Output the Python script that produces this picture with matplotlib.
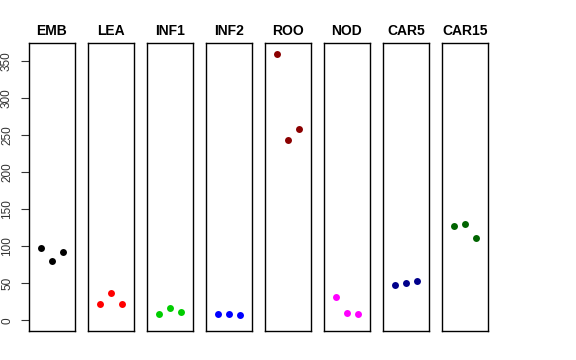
import matplotlib
matplotlib.use("Agg")
import matplotlib.pyplot as plt

tissues = ["EMB", "LEA", "INF1", "INF2", "ROO", "NOD", "CAR5", "CAR15"]
values = {
    "EMB": [97, 80, 92],
    "LEA": [22, 37, 22],
    "INF1": [9, 16, 11],
    "INF2": [9, 8, 7],
    "ROO": [360, 244, 258],
    "NOD": [31, 10, 8],
    "CAR5": [48, 50, 53],
    "CAR15": [127, 130, 111],
}
colors = ["black", "red", "#00CD00", "blue", "#8B0000", "magenta", "#00008B", "#006400"]
yticks = [0, 50, 100, 150, 200, 250, 300, 350]

plt.rcParams['font.family'] = ['Liberation Sans', 'DejaVu Sans']
W, H = 576, 360
fig = plt.figure(figsize=(W / 100, H / 100), dpi=100)

ymax = max(max(v) for v in values.values())
ymin = 0
pad = 0.04 * (ymax - ymin)
for i, t in enumerate(tissues):
    left = 29 + 59 * i
    ax = fig.add_axes([left / W, (H - 331) / H, 46 / W, 288 / H])
    ax.plot([1, 2, 3], values[t], "o", color=colors[i], markersize=5, markeredgewidth=0)
    ax.set_xlim(-0.16, 4.16)
    ax.set_ylim(ymin - pad, ymax + pad)
    ax.set_xticks([])
    for s in ax.spines.values():
        s.set_linewidth(1)
        s.set_color("black")
    ax.set_title(t, fontsize=10, fontweight="bold", pad=6)
    if i == 0:
        ax.set_yticks(yticks)
        ax.set_yticklabels([str(v) for v in yticks], rotation=90, va="center", fontsize=8.5)
        ax.tick_params(axis="y", length=5.5, width=0.8, pad=6, colors="#333333", labelcolor="#333333")
    else:
        ax.set_yticks([])

fig.savefig("out.png", dpi=100)
